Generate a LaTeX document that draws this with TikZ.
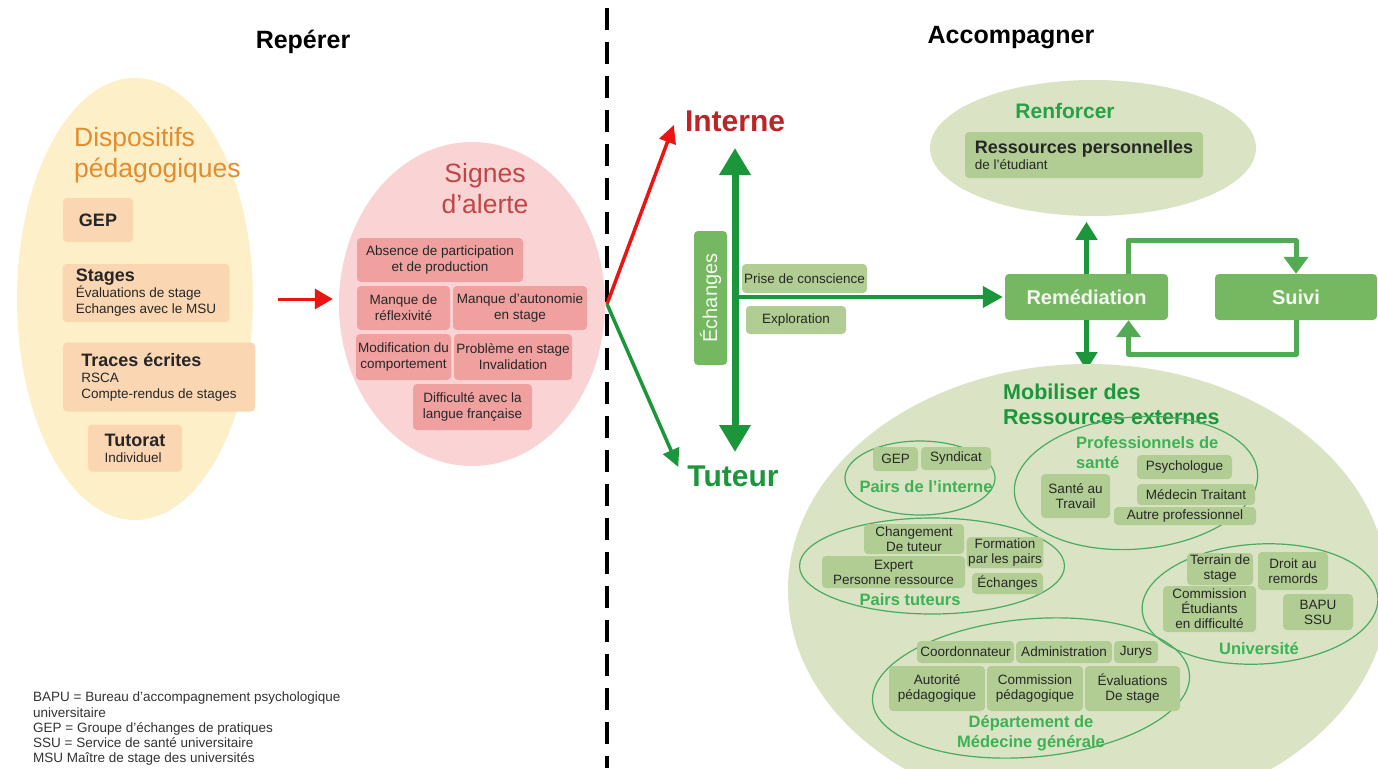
\documentclass[tikz,border=0pt]{standalone}
\usepackage{fontspec}
\setmainfont{Liberation Sans}
\usetikzlibrary{arrows.meta,shapes.geometric}
\definecolor{creme}{RGB}{253,240,201}
\definecolor{peche}{RGB}{250,214,178}
\definecolor{orangeT}{RGB}{226,140,45}
\definecolor{roseclair}{RGB}{250,212,212}
\definecolor{saumon}{RGB}{241,160,160}
\definecolor{rougeT}{RGB}{190,70,70}
\definecolor{rougeI}{RGB}{190,35,40}
\definecolor{rougeF}{RGB}{235,20,20}
\definecolor{olive}{RGB}{218,228,196}
\definecolor{sauge}{RGB}{178,205,148}
\definecolor{vmoyen}{RGB}{118,184,98}
\definecolor{vfleche}{RGB}{28,150,58}
\definecolor{vtitre}{RGB}{40,160,70}
\definecolor{vclair}{RGB}{60,178,85}
\newcommand\gras[1]{{\bfseries\fontsize{18}{20}\selectfont #1}}

\begin{document}
\begin{tikzpicture}[x=1pt,y=-1pt,line join=round,
  every node/.style={font=\fontsize{13.5}{16}\selectfont,text=black!85,inner sep=2pt},
  titre/.style={text=black,font=\bfseries\fontsize{25}{30}\selectfont},
  boite/.style={rounded corners=4pt,align=center},
  bpeche/.style={boite,fill=peche,align=left},
  brose/.style={boite,fill=saumon},
  bsauge/.style={boite,fill=sauge,font=\fontsize{13.5}{15}\selectfont,inner sep=1.5pt},
  bvert/.style={boite,fill=vmoyen,text=white!92!vmoyen,font=\bfseries\fontsize{20}{24}\selectfont},
  bulle/.style={ellipse,inner sep=0pt},
  groupe/.style={ellipse,draw=vfleche!80,line width=1.2pt,inner sep=0pt},
  etiq/.style={text=vclair,font=\bfseries\fontsize{16.5}{20}\selectfont},
  ffine/.style={line width=3.5pt,-{Triangle[length=18pt,width=17pt]}},
  fvert/.style={line width=4.5pt,vfleche,-{Triangle[length=18pt,width=21pt]}},
  fboucle/.style={line width=5pt,vmoyen!60!vfleche,-{Triangle[length=17pt,width=24pt]}}]
\path[fill=white,use as bounding box] (0,0) rectangle (1378,768);
\node[titre] (reperer) at (303,42) {Repérer};
\node[titre] (accomp) at (1011,38) {Accompagner};
\draw[line width=4pt,dash pattern=on 22pt off 12pt] (607,8) -- (607,768);

\node[bulle,fill=creme,minimum width=236,minimum height=442] (disp) at (135,299) {};
\node[anchor=west,align=left,text=orangeT,font=\fontsize{26.5}{31}\selectfont] (tdisp) at (72,155) {Dispositifs\\pédagogiques};
\node[bpeche,minimum width=70,minimum height=44] (gep) at (98,220) {\gras{GEP}};
\node[bpeche,minimum width=167,minimum height=58] (stages) at (146,293) {\gras{Stages}\\Évaluations de stage\\Echanges avec le MSU};
\node[bpeche,minimum width=192,minimum height=69] (traces) at (159,377) {\gras{Traces écrites}\\RSCA\\Compte-rendus de stages};
\node[bpeche,minimum width=94,minimum height=47] (tutorat) at (135,448) {\gras{Tutorat}\\Individuel};

\node[bulle,fill=roseclair,minimum width=266,minimum height=324] (signes) at (472,304) {};
\node[align=center,text=rougeT,font=\fontsize{26.5}{31}\selectfont] (tsignes) at (485,189) {Signes\\d’alerte};
\node[brose,minimum width=166,minimum height=44] (absence) at (440,260) {Absence de participation\\et de production};
\node[brose,minimum width=93,minimum height=44] (reflex) at (403.5,308) {Manque de\\réflexivité};
\node[brose,minimum width=134,minimum height=44] (autonomie) at (520,308) {Manque d’autonomie\\en stage};
\node[brose,minimum width=95,minimum height=46] (comport) at (403.5,357) {Modification du\\comportement};
\node[brose,minimum width=118,minimum height=46] (probleme) at (513,357) {Problème en stage\\Invalidation};
\node[brose,minimum width=119,minimum height=46] (langue) at (472.5,407) {Difficulté avec la\\langue française};
\draw[line width=3pt,rougeF,-{Triangle[length=18pt,width=20pt]}] ([xshift=25pt]disp.east) -- ([xshift=-6pt]disp.east -| signes.west);

\coordinate (fourche) at (607,304);
\node[text=rougeI,font=\bfseries\fontsize{30}{34}\selectfont] (interne) at (735,121) {Interne};
\node[text=vfleche,font=\bfseries\fontsize{30}{34}\selectfont] (tuteur) at (733,476) {Tuteur};
\draw[ffine,rougeF] (fourche) -- ([xshift=-9pt,yshift=-4pt]interne.west);
\draw[ffine,vfleche] (fourche) -- ([xshift=-7pt,yshift=9pt]tuteur.west);
\coordinate (vhaut) at (735,148);
\coordinate (vbas) at (735,452);
\draw[line width=7pt,vfleche,{Triangle[length=27pt,width=30pt]}-{Triangle[length=27pt,width=30pt]}] (vhaut) -- (vbas);
\node[boite,fill=vmoyen,rotate=90,minimum width=134,minimum height=33,text=white!90!vmoyen,font=\fontsize{20}{24}\selectfont] (echanges) at (710.5,298) {Échanges};
\node[bsauge,minimum width=125,minimum height=29] (prise) at (804.5,278.5) {Prise de conscience};
\node[bsauge,minimum width=100,minimum height=28] (explo) at (796,320) {Exploration};

\node[bulle,fill=olive,minimum width=326,minimum height=136] (renf) at (1093,148) {};
\node[text=vtitre,font=\bfseries\fontsize{21}{24}\selectfont] (trenf) at (1065,111) {Renforcer};
\node[boite,fill=sauge,align=left,minimum width=238,minimum height=46] (ressperso) at (1084,155) {\gras{Ressources personnelles}\\de l’étudiant};
\node[bvert,minimum width=163,minimum height=46] (remed) at (1086.5,297) {Remédiation};
\node[bvert,minimum width=162,minimum height=46] (suivi) at (1296,297) {Suivi};
\draw[line width=4pt,vfleche,-{Triangle[length=20pt,width=21pt]}] ([xshift=3pt]vhaut |- remed.west) -- ([xshift=-2pt]remed.west);
\draw[fvert] (remed.north) -- ++(0,-52);
\draw[fvert] (remed.south) -- ++(0,50);
\draw[fboucle] ([xshift=42pt]remed.north) -- ++(0,-33) -| (suivi.north);
\draw[fboucle] (suivi.south) -- ++(0,34) -| ([xshift=42pt]remed.south);

\node[bulle,fill=olive,minimum width=600,minimum height=452] (mob) at (1088,590) {};
\node[anchor=west,align=left,text=vfleche,font=\bfseries\fontsize{21.5}{25}\selectfont] (tmob) at (1001,404) {Mobiliser des\\Ressources externes};
\node[groupe,minimum width=150,minimum height=74] (pairsint) at (920,478) {};
\node[groupe,minimum width=244,minimum height=132,rotate=5] (prosante) at (1136,483) {};
\node[groupe,minimum width=265,minimum height=96] (pairstut) at (932,566) {};
\node[groupe,minimum width=236,minimum height=120,rotate=3] (univ) at (1260,604) {};
\node[groupe,minimum width=318,minimum height=138,rotate=5] (dmg) at (1031,688) {};

\node[bsauge,minimum width=45,minimum height=24] (gepb) at (895.5,459) {GEP};
\node[bsauge,minimum width=70,minimum height=23] (syndicat) at (956,458.5) {Syndicat};
\node[etiq] (tpairsint) at (926,487) {Pairs de l’interne};
\node[anchor=west,align=left,etiq] (tprosante) at (1074,453) {Professionnels de\\santé};
\node[bsauge,minimum width=95,minimum height=24] (psycho) at (1184.5,467) {Psychologue};
\node[bsauge,minimum width=69,minimum height=44] (travail) at (1075.5,496) {Santé au\\Travail};
\node[bsauge,minimum width=118,minimum height=21] (medecin) at (1196,494.5) {Médecin Traitant};
\node[bsauge,minimum width=142,minimum height=18] (autrepro) at (1185,516) {Autre professionnel};
\node[bsauge,minimum width=100,minimum height=30] (changement) at (914,539) {Changement\\De tuteur};
\node[bsauge,minimum width=143,minimum height=32] (expert) at (893.5,572) {Expert\\Personne ressource};
\node[bsauge,minimum width=76,minimum height=31] (formation) at (1005,552.5) {Formation\\par les pairs};
\node[bsauge,minimum width=71,minimum height=21] (echb) at (1007.5,583.5) {Échanges};
\node[etiq] (tpairstut) at (910,600) {Pairs tuteurs};
\node[bsauge,minimum width=66,minimum height=32] (terrain) at (1220,569) {Terrain de\\stage};
\node[bsauge,minimum width=70,minimum height=38] (remords) at (1293,571) {Droit au\\remords};
\node[bsauge,minimum width=93,minimum height=46] (commetu) at (1209.5,609) {Commission\\Étudiants\\en difficulté};
\node[bsauge,minimum width=70,minimum height=36] (bapu) at (1318,612) {BAPU\\SSU};
\node[etiq] (tuniv) at (1259,649) {Université};
\node[bsauge,minimum width=97,minimum height=22] (coord) at (965.5,652) {Coordonnateur};
\node[bsauge,minimum width=96,minimum height=22] (admin) at (1064,652) {Administration};
\node[bsauge,minimum width=44,minimum height=22] (jurys) at (1136,652) {Jurys};
\node[bsauge,minimum width=96,minimum height=45] (autorite) at (937,688.5) {Autorité\\pédagogique};
\node[bsauge,minimum width=96,minimum height=45] (commped) at (1035,688.5) {Commission\\pédagogique};
\node[bsauge,minimum width=95,minimum height=45] (evals) at (1132.5,688.5) {Évaluations\\De stage};
\node[etiq,align=center] (tdmg) at (1031,733) {Département de\\Médecine générale};

\node[anchor=north west,align=left,inner sep=0pt,text=black!80,font=\fontsize{13.5}{15.2}\selectfont] (legende) at (33,692) {BAPU = Bureau d’accompagnement psychologique\\universitaire\\GEP = Groupe d’échanges de pratiques\\SSU = Service de santé universitaire\\MSU Maître de stage des universités};
\end{tikzpicture}
\end{document}
